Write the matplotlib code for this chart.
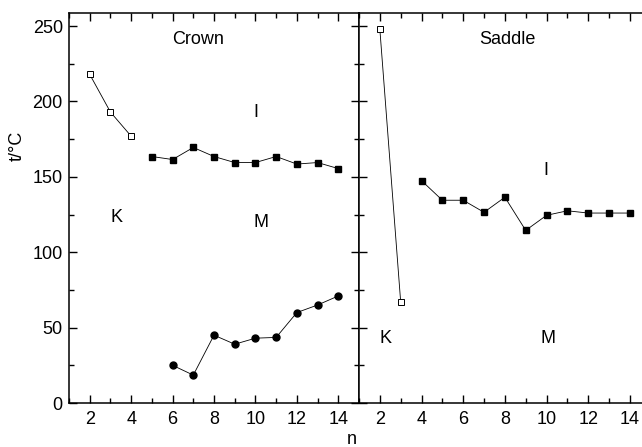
import matplotlib
matplotlib.use("Agg")
import matplotlib.pyplot as plt
from matplotlib.ticker import MultipleLocator

plt.rcParams['font.family'] = ['Liberation Sans', 'DejaVu Sans']

# Crown
crown_k_n = [2, 3, 4]
crown_k_t = [218, 193, 177]
crown_i_n = [5, 6, 7, 8, 9, 10, 11, 12, 13, 14]
crown_i_t = [163.5, 161.5, 169.5, 163.5, 159.5, 159.5, 163.5, 158.5, 159.5, 155.5]
crown_m_n = [6, 7, 8, 9, 10, 11, 12, 13, 14]
crown_m_t = [25, 18.5, 45, 39, 43, 43.5, 60, 65, 71]

# Saddle
saddle_k_n = [2, 3]
saddle_k_t = [248, 67]
saddle_i_n = [4, 5, 6, 7, 8, 9, 10, 11, 12, 13, 14]
saddle_i_t = [147.5, 134.5, 134.5, 126.5, 136.5, 114.5, 124.5, 127.5, 126, 126, 126]

fig = plt.figure(figsize=(6.42, 4.47), dpi=100)
W, H = 642, 447
ax1 = fig.add_axes([69 / W, 1 - 403 / H, 290 / W, 389.7 / H])
ax2 = fig.add_axes([359 / W, 1 - 403 / H, 283 / W, 389.7 / H])

lw = 0.6
ax1.plot(crown_k_n, crown_k_t, '-s', color='black', lw=lw, ms=4, mfc='white', mew=0.7)
ax1.plot(crown_i_n, crown_i_t, '-s', color='black', lw=lw, ms=5)
ax1.plot(crown_m_n, crown_m_t, '-o', color='black', lw=lw, ms=5)
ax2.plot(saddle_k_n, saddle_k_t, '-s', color='black', lw=lw, ms=4, mfc='white', mew=0.7)
ax2.plot(saddle_i_n, saddle_i_t, '-s', color='black', lw=lw, ms=5)

fs = 13
for ax, xmax in [(ax1, 15), (ax2, 14.58)]:
    ax.set_xlim(1, xmax)
    ax.set_ylim(0, 258.5)
    ax.xaxis.set_major_locator(MultipleLocator(2))
    ax.xaxis.set_minor_locator(MultipleLocator(1))
    ax.yaxis.set_major_locator(MultipleLocator(50))
    ax.yaxis.set_minor_locator(MultipleLocator(25))
    ax.tick_params(which='both', direction='in', top=True, labelsize=fs, width=1)
    ax.tick_params(which='major', length=6)
    ax.tick_params(which='minor', length=3.5)
    ax.tick_params(axis='x', pad=6)
    ax.tick_params(axis='y', pad=4.5)
    for s in ax.spines.values():
        s.set_linewidth(1.1)

ax1.tick_params(which='both', right=True)
ax2.tick_params(which='both', left=True, right=False, labelleft=False)
ax2.spines['right'].set_visible(False)

ax1.text(7.23, 241, 'Crown', ha='center', va='center', fontsize=fs)
ax1.text(10.03, 193, 'I', ha='center', va='center', fontsize=fs)
ax1.text(3.27, 123, 'K', ha='center', va='center', fontsize=fs)
ax1.text(10.28, 120, 'M', ha='center', va='center', fontsize=fs)
ax2.text(8.1, 241, 'Saddle', ha='center', va='center', fontsize=fs)
ax2.text(9.98, 154, 'I', ha='center', va='center', fontsize=fs)
ax2.text(2.28, 43, 'K', ha='center', va='center', fontsize=fs)
ax2.text(10.07, 43, 'M', ha='center', va='center', fontsize=fs)

fig.text(17 / W, 1 - 146 / H, 't/°C', rotation=90, ha='center', va='center', fontsize=fs)
fig.text(352 / W, 1 - 439 / H, 'n', ha='center', va='center', fontsize=fs)

fig.savefig('out.png', dpi=100)
